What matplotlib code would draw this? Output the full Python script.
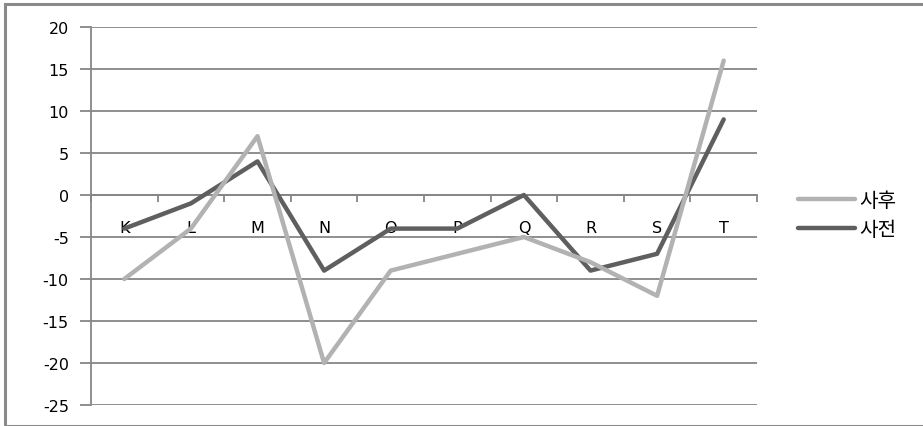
import matplotlib
matplotlib.use("Agg")
import matplotlib.pyplot as plt
from matplotlib.patches import Rectangle
import numpy as np

categories = ["K", "L", "M", "N", "O", "P", "Q", "R", "S", "T"]
after_vals = [-10, -4, 7, -20, -9, -7, -5, -8, -12, 16]   # 사후
before_vals = [-4, -1, 4, -9, -4, -4, 0, -9, -7, 9]      # 사전
series_names = ["사후", "사전"]
yticks = list(range(-25, 21, 5))

plt.rcParams['font.family'] = ['DejaVu Sans', 'Noto Sans CJK KR']

W, H = 923, 427
fig = plt.figure(figsize=(W / 100, H / 100), dpi=100)
ax = fig.add_axes([91 / W, 1 - 406 / H, (757 - 91) / W, (406 - 28) / H])

grid_c = "#868686"
x = np.arange(len(categories))

ax.plot(x, before_vals, color="#5f5f5f", lw=3.2, solid_capstyle="round", zorder=3, label=series_names[1])
ax.plot(x, after_vals, color="#b2b2b2", lw=3.2, solid_capstyle="round", zorder=4, label=series_names[0])

ax.set_xlim(-0.5, len(categories) - 0.5)
ax.set_ylim(-25, 20)
ax.set_yticks(yticks)
ax.set_yticklabels([str(v) for v in yticks], fontsize=11.5)
ax.yaxis.grid(True, color=grid_c, lw=1.3, zorder=1)
ax.set_axisbelow(True)

for s in ["top", "right"]:
    ax.spines[s].set_visible(False)
ax.spines["left"].set_color(grid_c)
ax.spines["left"].set_linewidth(1.3)
ax.spines["bottom"].set_position(("data", 0))
ax.spines["bottom"].set_color(grid_c)
ax.spines["bottom"].set_linewidth(1.3)

ax.set_xticks(np.arange(len(categories) + 1) - 0.5)
ax.set_xticklabels([])
ax.set_xticks(x, minor=True)
ax.set_xticklabels(categories, minor=True, fontsize=11.5)
ax.tick_params(axis="x", which="major", direction="out", length=5, color=grid_c, width=1.3)
ax.tick_params(axis="x", which="minor", length=0, pad=18)
ax.tick_params(axis="y", direction="out", length=8, color=grid_c, width=1.3, pad=8)
for lbl in ax.get_xticklabels(minor=True):
    lbl.set_zorder(2)

handles, labels = ax.get_legend_handles_labels()
leg = fig.legend(handles[::-1], labels[::-1], loc="center left",
                 bbox_to_anchor=(780 / W, 1 - 216 / H), frameon=False,
                 prop={"family": ["Noto Sans CJK KR"], "size": 14.5},
                 handlelength=2.8, handletextpad=0.25, labelspacing=0.4)

fig.patches.append(Rectangle((5 / W, 0), 1, 1 - 5 / H, transform=fig.transFigure,
                             fill=False, edgecolor="#8a8a8a", lw=2.2))

fig.savefig("out.png", dpi=100)
